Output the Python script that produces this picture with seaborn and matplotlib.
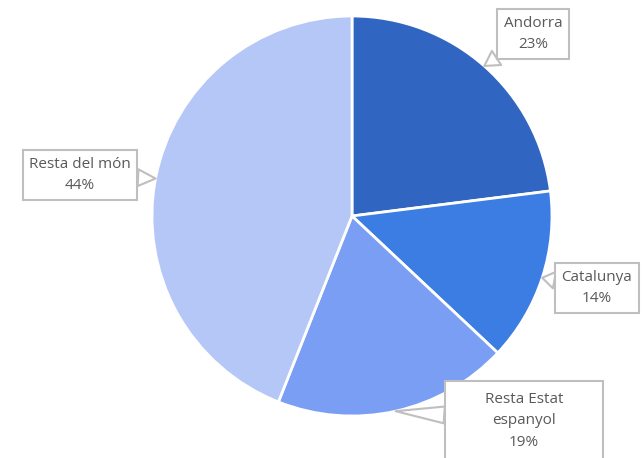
import numpy as np
import matplotlib.pyplot as plt
from matplotlib.path import Path
from matplotlib.transforms import Affine2D
import seaborn as sns

# dades
labels = ["Andorra", "Catalunya", "Resta Estat\nespanyol", "Resta del món"]
shares = [23, 14, 19, 44]
colors = ["#3165c2", "#3b7de3", "#7a9ef4", "#b4c7f7"]

# posicions de les etiquetes (píxels, y cap avall) i mida mínima de la caixa
label_pos = [(533, 34), (597, 288), (524, 421), (80, 175)]
box_min = [(0, 0), (0, 0), (158, 80), (0, 0)]


def callout_box(min_w, min_h):
    # caixa rectangular amb mida mínima (en píxels)
    def style(x0, y0, width, height, mutation_size):
        pad = 0.42 * mutation_size
        w = max(width + 2 * pad, min_w)
        h = max(height + 2 * pad, min_h)
        xc, yc = x0 + width / 2, y0 + height / 2
        return Path.unit_rectangle().transformed(
            Affine2D().scale(w, h).translate(xc - w / 2, yc - h / 2)
        )

    return style


sns.set_theme(style="white")
plt.rcParams["font.family"] = ["Open Sans", "DejaVu Sans"]

W, H = 642, 458
fig = plt.figure(figsize=(W / 100, H / 100), dpi=100)
ax = fig.add_axes([0, 0, 1, 1])

cx, cy, r = 352, H - 216, 200
wedges, _ = ax.pie(
    shares,
    colors=colors,
    startangle=90,
    counterclock=False,
    center=(cx, cy),
    radius=r,
    frame=True,
    wedgeprops={"edgecolor": "white", "linewidth": 2},
)
ax.set_xlim(0, W)
ax.set_ylim(0, H)
ax.set_aspect("equal")
ax.axis("off")

for w, lab, val, (tx, ty), (mw, mh) in zip(wedges, labels, shares, label_pos, box_min):
    ang = np.deg2rad((w.theta1 + w.theta2) / 2)
    px, py = cx + r * np.cos(ang), cy + r * np.sin(ang)
    ax.annotate(
        f"{lab}\n{val}%",
        xy=(px, py),
        xytext=(tx, H - ty),
        ha="center",
        va="center",
        fontsize=11,
        color="#595959",
        linespacing=1.6,
        bbox=dict(boxstyle=callout_box(mw, mh), fc="white", ec="#bfbfbf", lw=1.5),
        arrowprops=dict(
            arrowstyle="wedge,tail_width=1.1,shrink_factor=0.5",
            fc="white",
            ec="#bfbfbf",
            lw=1.5,
            shrinkA=0,
            shrinkB=0,
        ),
        annotation_clip=False,
    )

fig.savefig("out.png", dpi=100)
